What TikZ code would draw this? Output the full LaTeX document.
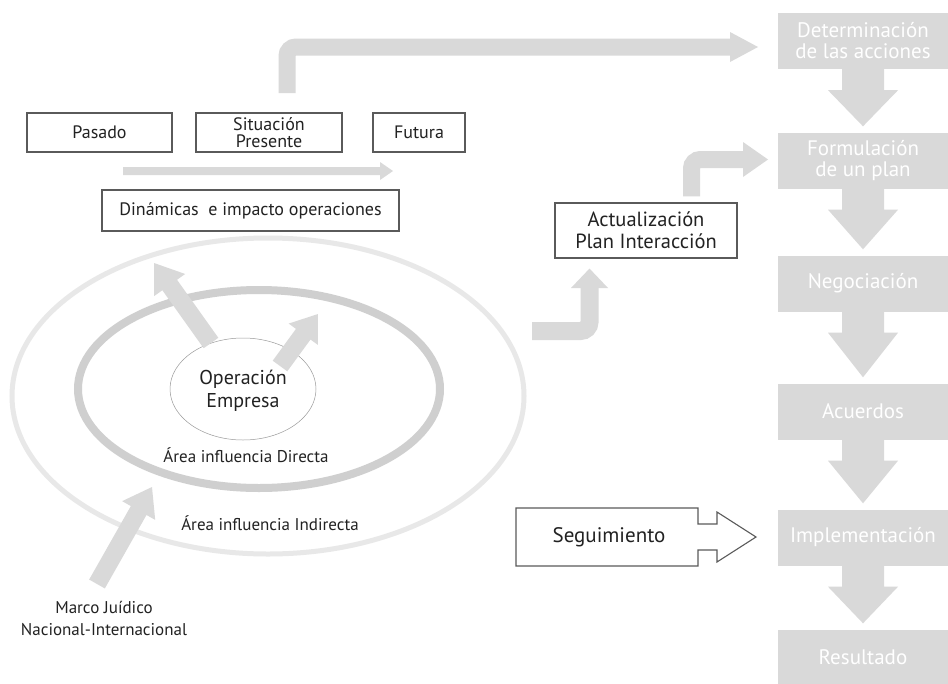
\documentclass[tikz,border=0pt]{standalone}
\usepackage{fontspec}
\setmainfont{PT Sans}
\usetikzlibrary{calc,shapes.geometric}
\definecolor{boxgray}{HTML}{D9D9D9}
\definecolor{ringin}{HTML}{CFCFCF}
\definecolor{ringout}{HTML}{E8E8E8}
\definecolor{edge}{HTML}{5A5A5A}
\definecolor{ink}{HTML}{222222}
\tikzset{
  stepbox/.style={fill=boxgray, text=white, minimum width=170pt, minimum height=56pt,
    inner sep=0pt, align=center, font=\fontsize{21}{21}\selectfont},
  framebox/.style={draw=edge, line width=1.1pt, fill=white, inner sep=0pt, align=center,
    text=ink, font=\fontsize{18}{17}\selectfont},
  bigframe/.style={framebox, font=\fontsize{20.5}{22}\selectfont},
  lab/.style={text=ink, align=center, font=\fontsize{17}{19}\selectfont},
  shaft/.style={draw=boxgray, line width=17pt, rounded corners=9pt},
}
% fat straight arrow: tail, tip, shaft half width, head half width, head length
\newcommand{\fatarrow}[5]{%
  \fill[boxgray] let \p1=(#1), \p2=(#2), \n1={atan2(\y2-\y1,\x2-\x1)},
    \n2={veclen(\x2-\x1,\y2-\y1)} in [shift={(\p1)}, rotate=\n1]
    (0,#3) -- (\n2-#5,#3) -- (\n2-#5,#4) -- (\n2,0) -- (\n2-#5,-#4) -- (\n2-#5,-#3)
    -- (0,-#3) -- cycle;}
\newcommand{\fatdown}[2]{%
  \fill[boxgray] ($(#1.south)+(-21,0)$) -- ($(#1.south)+(-21,21)$) -- ($(#1.south)+(-35,21)$)
    -- ($(#2.north)+(0,-6)$) -- ($(#1.south)+(35,21)$) -- ($(#1.south)+(21,21)$)
    -- ($(#1.south)+(21,0)$) -- cycle;}
\begin{document}
\begin{tikzpicture}[x=1pt,y=-1pt]
\useasboundingbox[fill=white] (0,0) rectangle (948,683);

% right column
\node[stepbox] (s1) at (863,41) {Determinación\\de las acciones};
\node[stepbox] (s2) at (863,160.5) {Formulación\\de un plan};
\node[stepbox] (s3) at (863,283.5) {Negociación};
\node[stepbox] (s4) at (863,411.5) {Acuerdos};
\node[stepbox] (s5) at (863,537.5) {Implementación};
\node[stepbox] (s6) at (863,657.5) {Resultado};
\fatdown{s1}{s2}
\fatdown{s2}{s3}
\fatdown{s3}{s4}
\fatdown{s4}{s5}
\fatdown{s5}{s6}

% ellipses
\draw[ringout, line width=5pt] (268,396) ellipse [x radius=256, y radius=158];
\draw[ringin, line width=8pt] (259,389) ellipse [x radius=181, y radius=99];
\node[draw=gray!80, line width=0.5pt, ellipse, minimum width=146pt, minimum height=102pt,
  inner sep=0pt] (op) at (243,389) {};
\node[lab, font=\fontsize{20}{23}\selectfont] (opt) at (243,391) {Operación\\Empresa};
\node[lab] (dir) at (246,455) {Área influencia Directa};
\node[lab] (ind) at (270,523) {Área influencia Indirecta};

% top row
\node[framebox, minimum width=145pt, minimum height=39pt] (pas) at (99.5,132.5) {Pasado};
\node[framebox, minimum width=146pt, minimum height=39pt] (sit) at (269,132.5) {Situación\\Presente};
\node[framebox, minimum width=92pt, minimum height=39pt] (fut) at (419,132.5) {Futura};
\node[framebox, minimum width=297pt, minimum height=41pt] (din) at (250.5,210.5) {Dinámicas\ \ e impacto operaciones};
\coordinate (tl0) at (123,171);
\coordinate (tl1) at (393,171);
\fatarrow{tl0}{tl1}{4}{9}{13}

% Actualizacion
\node[bigframe, minimum width=182pt, minimum height=55pt] (act) at (646,230.5) {Actualización\\Plan Interacción};

% top bent arrow to s1
\coordinate (b0) at (287,93);
\coordinate (b1) at (287,47);
\coordinate (b2) at (731,47);
\draw[shaft] (b0) -- (b1) -- (b2);
\fill[boxgray] (730,32) -- (758,47) -- (730,62) -- cycle;

% act -> s2
\coordinate (c0) at ($(act.north)+(45.5,-6)$);
\coordinate (c1) at (691.5,159.5);
\coordinate (c2) at (744,159.5);
\draw[shaft] (c0) -- (c1) -- (c2);
\fill[boxgray] (743,142) -- (768,159.5) -- (743,177) -- cycle;

% ellipse -> act
\coordinate (d0) at (532,331);
\coordinate (d1) at (589.5,331);
\coordinate (d2) at (589.5,287);
\draw[shaft, line width=18pt] (d0) -- (d1) -- (d2);
\fill[boxgray] (571,288) -- ($(act.south)+(-56.5,10)$) -- (608,288) -- cycle;

% arrows in rings
\coordinate (a0) at (211,343);
\coordinate (a1) at (154,263);
\fatarrow{a0}{a1}{9}{19}{27}
\coordinate (e0) at (280,366);
\coordinate (e1) at (318,314);
\fatarrow{e0}{e1}{9}{18}{25}
\coordinate (f0) at (97,584);
\coordinate (f1) at (152,487);
\fatarrow{f0}{f1}{9}{19}{27}

\node[lab, font=\fontsize{17}{22}\selectfont] (marco) at (104,618) {Marco Juídico\\Nacional-Internacional};

% Seguimiento
\draw[edge, line width=1.1pt, fill=white] (516,508) -- (698,508) -- (698,524) -- (717,524) -- (717,512)
  -- (756,537) -- (717,562) -- (717,550) -- (698,550) -- (698,566) -- (516,566) -- cycle;
\node[lab, font=\fontsize{21}{22}\selectfont] (seg) at (609,537) {Seguimiento};
\end{tikzpicture}
\end{document}
